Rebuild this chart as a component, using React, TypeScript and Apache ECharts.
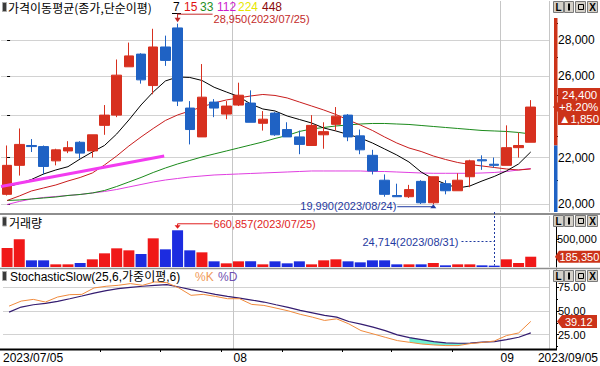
import React, { useEffect, useRef } from 'react';
import * as echarts from 'echarts';

const dates = ['2023/07/05','2023/07/06','2023/07/07','2023/07/10','2023/07/11','2023/07/12','2023/07/13','2023/07/14','2023/07/17','2023/07/18','2023/07/19','2023/07/20','2023/07/21','2023/07/24','2023/07/25','2023/07/26','2023/07/27','2023/07/28','2023/07/31','2023/08/01','2023/08/02','2023/08/03','2023/08/04','2023/08/07','2023/08/08','2023/08/09','2023/08/10','2023/08/11','2023/08/14','2023/08/16','2023/08/17','2023/08/18','2023/08/21','2023/08/22','2023/08/23','2023/08/24','2023/08/25','2023/08/28','2023/08/29','2023/08/30','2023/08/31','2023/09/01','2023/09/04','2023/09/05'];
const opens = [20400,21650,22550,22500,21850,22300,22700,22300,23500,24000,26500,27200,25500,27600,28700,24350,22950,24650,24050,24500,24600,23600,24100,23300,22950,22550,23050,23550,24000,23000,22100,21000,20350,20300,20950,20050,20850,20550,21150,21900,21700,21650,22450,22700];
const closes = [21650,22600,22500,21600,22350,22450,22200,23050,24000,26050,27100,25800,27600,26850,24700,23300,24900,24350,24450,25000,23650,23800,23050,22950,22600,23500,23200,23950,22950,22350,21400,20400,20300,20600,20050,21150,20550,21000,21850,21850,21650,22450,22550,24400];
const lows = [20350,21200,22250,21250,21650,22200,21950,22000,23050,23900,26500,25600,25050,26550,24450,22600,22950,23900,23800,24450,23650,23250,23000,22950,22150,22550,22400,23250,22750,22150,21250,20300,20300,20250,20000,19990,20400,20550,20700,21450,21550,21650,22000,22700];
const highs = [22550,23350,22850,22550,22400,22750,22750,23050,24500,26900,27850,27250,28650,28250,28950,24700,26650,24800,24700,25650,25250,24200,24150,23650,23250,24000,23650,24400,24050,23300,22350,21250,20850,20800,21000,21150,21000,21300,21900,22100,22000,23500,23150,24750];
const volumes = [342000,499000,120000,120000,48000,48000,72000,138000,246000,336000,300000,234000,516000,318000,660857,300000,264000,102000,66000,102000,102000,48000,102000,66000,102000,48000,120000,138000,102000,84000,120000,120000,48000,48000,48000,72000,30000,48000,48000,30000,24714,138000,72000,185350];
const ma7 = [20710,20859,21031,21270,21445,21591,21935,22252,22551,23089,23762,24504,25167,25741,25953,25927,25768,25411,25167,24936,24555,24304,24205,23957,23786,23616,23375,23232,23065,22900,22666,22389,22115,21800,21357,21053,20838,20667,20752,20966,21161,21401,21711,22252];
const ma15 = [20144,20331,20541,20667,20795,20966,21118,21313,21666,22070,22527,22947,23351,23737,24007,24205,24404,24605,24757,24859,24961,25038,24987,24859,24655,24454,24254,24031,23762,23519,23255,22947,22666,22435,22275,22070,21912,21778,21688,21622,21555,21489,21445,21489];
const ma33 = [20144,20165,20206,20248,20289,20352,20394,20457,20562,20731,20923,21118,21335,21533,21711,21867,22025,22161,22297,22435,22574,22713,22877,23018,23208,23327,23399,23471,23519,23567,23592,23592,23567,23543,23495,23447,23399,23351,23303,23255,23232,23208,23160,23089];
const ma112 = [19979,20103,20206,20269,20310,20352,20394,20457,20520,20604,20710,20816,20923,21009,21074,21139,21183,21226,21248,21270,21292,21313,21335,21357,21379,21401,21401,21401,21401,21401,21379,21379,21357,21335,21313,21300,21300,21300,21300,21313,21335,21379,21445,21511];
const stochK = [55.3,60.6,62.4,59.6,64.9,67.4,67.7,74.5,76.3,77.3,79.1,77.3,80.9,80.1,74.5,66.7,67.7,65.6,63.1,63.1,57.1,56.0,53.2,50.3,46.6,43.6,40.1,41.8,36.5,29.4,25.9,22.3,18.8,17.0,15.2,14.2,13.5,13.5,15.6,16.8,18.4,24.1,26.9,39.12];
const stochD = [48.9,54.3,56.7,58.2,60.3,63.1,66.0,69.1,71.6,73.7,75.2,76.3,77.3,78.0,75.5,72.7,70.2,67.7,65.6,63.8,61.7,59.6,56.7,53.9,50.7,48.2,45.4,43.6,39.0,36.2,33.0,29.4,24.8,22.0,19.9,17.7,16.3,16.0,16.2,17.1,17.7,19.9,22.3,26.9];
const oversoldFill = [33, 40];
const trendLine = [[-0.5, 20730], [12.9, 22070]];
const priceTicks = [20000, 22000, 24000, 26000, 28000];
const priceMinorTicks = [21000, 23000, 25000, 27000, 29000];
const volumeTicks = [500000];
const stochTicks = [25, 50, 75];
const stochMinorTicks = [12.5, 37.5, 62.5, 87.5];
const maPeriods = ['7', '15', '33', '112', '224', '448'];

export default function App() {
  const ref = useRef<HTMLDivElement>(null);
  useEffect(() => {
    const el = ref.current;
    if (!el) return;
    const chart = echarts.init(el, null, { renderer: 'svg' });
    const n = dates.length;
    const L = Math.log;
    const cats = [...dates, ''];
    const cats2 = [...dates, '', ''];
    const FONT = '"Liberation Sans", "Noto Sans CJK KR", sans-serif';
    const KFONT = '"Noto Sans CJK KR", "Liberation Sans", sans-serif';
    const UP = '#d7301f', DOWN = '#1f62c4';
    const fmt = (v: number) => Math.round(v).toLocaleString('en-US');
    const month = (i: number) => (dates[i] || '').slice(5, 7);
    const monthStart = (i: number) => i > 0 && i < n && month(i) !== month(i - 1);
    const labelIdx = dates.map((_, i) => i).filter((i) => i === 0 || monthStart(i));
    const isMonday = (i: number) => i < n && new Date(dates[i].replace(/\//g, '-') + 'T00:00:00Z').getUTCDay() === 1;
    const tickShown = (i: number) => isMonday(i) && !labelIdx.some((l) => i >= l && i <= l + 3);
    const gridLine = '#d2d2d2';

    const catAxis = (g: number) => ({
      type: 'category', gridIndex: g, data: cats, boundaryGap: true, position: g === 2 ? 'top' : 'bottom',
      axisLine: { show: false }, axisTick: { show: false }, axisLabel: { show: false },
      splitLine: { show: true, interval: (i: number) => monthStart(i), lineStyle: { color: '#c6c6c6', width: 1 } },
    });
    const pMin = L(19674), pMax = L(30330);
    const sMin = 9.9, sMax = 93.5;
    const fs = oversoldFill[0], fe = oversoldFill[1];
    const last = closes[n - 1], prev = closes[n - 2];
    // axis labels hidden behind the last-price box
    const boxHalf = 22 * (pMax - pMin) / 211;
    const priceLabels = priceTicks.filter((t) => Math.abs(L(t) - L(last)) > boxHalf);

    const option: any = {
      animation: false,
      backgroundColor: '#ffffff',
      textStyle: { fontFamily: FONT },
      grid: [
        { left: 1, top: 1, width: 548, height: 211 },
        { left: 1, top: 216, width: 548, height: 51 },
        { left: 1, top: 270, width: 548, height: 79 },
      ],
      xAxis: [
        catAxis(0), catAxis(1), catAxis(2),
        { type: 'value', gridIndex: 0, min: -0.5, max: n + 0.5, show: false },
        {
          type: 'category', gridIndex: 2, data: cats2, boundaryGap: false, position: 'bottom',
          axisLine: { show: false },
          axisTick: { show: true, interval: (i: number) => tickShown(i), length: 3, lineStyle: { color: '#000' } },
          axisLabel: {
            show: true, interval: (i: number) => labelIdx.includes(i),
            formatter: (v: string, i: number) => (i === 0 ? v : v.slice(5, 7)),
            align: 'left', margin: 3, color: '#000', fontSize: 12, fontFamily: FONT,
          },
          splitLine: { show: false },
        },
      ],
      yAxis: [
        {
          type: 'value', gridIndex: 0, position: 'right', offset: 7, min: pMin, max: pMax,
          axisLine: { show: false },
          axisTick: { show: true, length: 3, customValues: priceTicks.map(L), lineStyle: { color: '#000' } },
          axisLabel: { show: true, customValues: priceLabels.map(L), formatter: (v: number) => fmt(Math.exp(v)), margin: 2, color: '#000', fontSize: 12, fontFamily: FONT },
          splitLine: { show: true, lineStyle: { color: gridLine } },
        },
        {
          type: 'value', gridIndex: 0, position: 'right', offset: 7, min: pMin, max: pMax,
          axisLine: { show: false },
          axisTick: { show: true, length: 2, customValues: priceMinorTicks.map(L), lineStyle: { color: '#000' } },
          axisLabel: { show: false }, splitLine: { show: false },
        },
        {
          type: 'value', gridIndex: 1, position: 'right', offset: 7, min: 0, max: 918000,
          axisLine: { show: true, lineStyle: { color: '#000' } },
          axisTick: { show: true, length: 3, customValues: volumeTicks, lineStyle: { color: '#000' } },
          axisLabel: { show: true, customValues: volumeTicks, formatter: (v: number) => fmt(v), margin: 1, color: '#000', fontSize: 11, fontFamily: FONT },
          splitLine: { show: false },
        },
        {
          type: 'value', gridIndex: 2, position: 'right', offset: 7, min: sMin, max: sMax,
          axisLine: { show: true, lineStyle: { color: '#000' } },
          axisTick: { show: true, length: 3, customValues: stochTicks, lineStyle: { color: '#000' } },
          axisLabel: { show: true, customValues: stochTicks, formatter: (v: number) => v.toFixed(2), margin: 2, color: '#000', fontSize: 11, fontFamily: FONT },
          splitLine: { show: true, lineStyle: { color: gridLine } },
        },
        {
          type: 'value', gridIndex: 2, position: 'right', offset: 7, min: sMin, max: sMax,
          axisLine: { show: false },
          axisTick: { show: true, length: 2, customValues: stochMinorTicks, lineStyle: { color: '#000' } },
          axisLabel: { show: false }, splitLine: { show: false },
        },
      ],
      series: [
        ...([[ma112, '#e03ee0'], [ma33, '#1b8a1b'], [ma15, '#c81c1c'], [ma7, '#000000']] as any[]).map(([d, c]) => ({
          type: 'line', xAxisIndex: 0, yAxisIndex: 0, z: 2, silent: true, symbol: 'none',
          data: (d as number[]).map(L), lineStyle: { color: c, width: 1 },
        })),
        {
          type: 'candlestick', xAxisIndex: 0, yAxisIndex: 0, z: 3, barWidth: 10, silent: true,
          data: dates.map((_, i) => [L(opens[i]), L(closes[i]), L(lows[i]), L(highs[i])]),
          itemStyle: { color: UP, color0: DOWN, borderColor: UP, borderColor0: DOWN, borderWidth: 1 },
        },
        {
          type: 'line', xAxisIndex: 3, yAxisIndex: 0, z: 4, symbol: 'none', silent: true,
          data: trendLine.map(([x, p]) => [x, L(p)]), lineStyle: { color: '#f23cf0', width: 3 },
        },
        {
          type: 'bar', xAxisIndex: 1, yAxisIndex: 2, barWidth: 11, silent: true,
          data: volumes.map((v, i) => ({ value: v, itemStyle: { color: closes[i] >= opens[i] ? '#f01818' : '#1c2ce0' } })),
        },
        {
          type: 'line', xAxisIndex: 2, yAxisIndex: 3, stack: 'fill', symbol: 'none', silent: true,
          lineStyle: { opacity: 0 }, data: stochK.map((k, i) => (i >= fs && i <= fe ? k : '-')),
        },
        {
          type: 'line', xAxisIndex: 2, yAxisIndex: 3, stack: 'fill', symbol: 'none', silent: true,
          lineStyle: { opacity: 0 }, areaStyle: { color: '#72f0d2', opacity: 1 },
          data: stochK.map((k, i) => (i >= fs && i <= fe ? Math.max(stochD[i] - k, 0) : '-')),
        },
        { type: 'line', xAxisIndex: 2, yAxisIndex: 3, symbol: 'none', silent: true, data: stochD, lineStyle: { color: '#341c70', width: 1.2 } },
        { type: 'line', xAxisIndex: 2, yAxisIndex: 3, symbol: 'none', silent: true, data: stochK, lineStyle: { color: '#f08a3c', width: 1 } },
      ],
    };
    chart.setOption(option);

    const toP = (i: number, price: number) => chart.convertToPixel({ xAxisIndex: 0, yAxisIndex: 0 } as any, [i, L(price)]) as unknown as number[];
    const toV = (i: number, v: number) => chart.convertToPixel({ xAxisIndex: 1, yAxisIndex: 2 } as any, [i, v]) as unknown as number[];
    const toS = (i: number, v: number) => chart.convertToPixel({ xAxisIndex: 2, yAxisIndex: 3 } as any, [i, v]) as unknown as number[];

    const line = (x1: number, y1: number, x2: number, y2: number, stroke: string, w = 1, dash?: number[]) =>
      ({ type: 'line', silent: true, z: 100, shape: { x1, y1, x2, y2 }, style: { stroke, lineWidth: w, lineDash: dash } });
    const text = (x: number, y: number, t: string, fill: string, size = 12, align = 'left', family = FONT, weight = 'normal') =>
      ({ type: 'text', silent: true, z: 102, x, y, style: { text: t, fill, fontSize: size, fontFamily: family, fontWeight: weight, align, verticalAlign: 'middle' } });
    const poly = (pts: number[][], fill: string) => ({ type: 'polygon', silent: true, z: 101, shape: { points: pts }, style: { fill } });
    const rect = (x: number, y: number, w: number, h: number, fill: string, stroke?: string) =>
      ({ type: 'rect', silent: true, z: 100, shape: { x, y, width: w, height: h }, style: { fill, stroke: stroke || 'none', lineWidth: stroke ? 1 : 0 } });

    const G: any[] = [];
    // panel separators and bottom axis line
    G.push(line(0, 214, 600, 214, '#8e8e8e', 2));
    G.push(line(0, 268.5, 600, 268.5, '#8e8e8e', 1.5));
    G.push(line(0, 349.5, 557, 349.5, '#000', 2));

    // legends
    const icon = (y: number) => rect(2.5, y, 4, 9, '#3a3a3a', '#a8a8a8');
    G.push(icon(2.5), text(8, 7, '가격이동평균(종가,단순이평)', '#000', 12, 'left', KFONT));
    const maColors = ['#000000', '#e01010', '#1f8f1f', '#cc1ccc', '#e6e600', '#8b0a0a'];
    const maX = [173, 184, 200, 217, 238, 262];
    maPeriods.forEach((p, k) => G.push(text(maX[k], 7, p, maColors[k], 12)));
    G.push(line(172, 13.5, 181, 13.5, '#000', 1));
    G.push(icon(217), text(9, 222.5, '거래량', '#000', 12, 'left', KFONT));
    G.push(icon(271.5), text(10, 276.5, 'StochasticSlow(25,6,가중이평,6)', '#000', 12, 'left', FONT));
    G.push(text(195, 276.5, '%K', '#f09a5a', 12), text(218, 276.5, '%D', '#7050b0', 12));

    // window buttons
    const btns = (y0: number) => [
      rect(553.5, y0 + 0.5, 10, 11, '#d4d0c8', '#7a7a7a'), text(558.5, y0 + 6.5, 'L', '#000', 10, 'center', FONT, 'bold'),
      rect(564.5, y0 + 0.5, 9, 11, '#d4d0c8', '#7a7a7a'), rect(568, y0 + 2.5, 2, 7, '#000'),
      rect(575.5, y0 + 0.5, 10, 11, '#d4d0c8', '#7a7a7a'), rect(578.5, y0 + 3.5, 5, 5, 'none', '#000'),
      rect(587.5, y0 + 0.5, 10, 11, '#d4d0c8', '#7a7a7a'), text(592.5, y0 + 6.5, 'X', '#000', 10, 'center', FONT, 'bold'),
    ];
    G.push(...btns(1), ...btns(215), ...btns(270));

    // price colour bar on axis (above / below previous close)
    const yPrev = toP(n - 1, prev)[1];
    G.push(rect(554, 18, 3.5, yPrev - 18, '#cc3319'), rect(554, yPrev, 3.5, 212 - yPrev, DOWN));

    // max / min price annotations
    let iMax = 0, iMin = 0;
    highs.forEach((h, i) => { if (h > highs[iMax]) iMax = i; });
    lows.forEach((l, i) => { if (l < lows[iMin]) iMin = i; });
    const pm = toP(iMax, highs[iMax]);
    const RED = '#c42a2a';
    G.push(line(pm[0], pm[1] - 10, pm[0], pm[1] - 5, RED), poly([[pm[0] - 3, pm[1] - 6], [pm[0] + 3, pm[1] - 6], [pm[0], pm[1] - 1.5]], RED));
    G.push(line(pm[0], pm[1] - 9.5, pm[0] + 35, pm[1] - 9.5, RED), text(pm[0] + 36, pm[1] - 5, `${fmt(highs[iMax])}(${dates[iMax]})`, RED, 11));
    const pn = toP(iMin, lows[iMin]);
    const BLUE = '#1f3aa0';
    G.push(line(pn[0] - 36, pn[1] + 2.5, pn[0], pn[1] + 2.5, BLUE), poly([[pn[0] - 3, pn[1] + 4], [pn[0] + 3, pn[1] + 4], [pn[0], pn[1]]], BLUE));
    G.push(text(pn[0] - 37, pn[1] + 2, `${fmt(lows[iMin])}(${dates[iMin]})`, BLUE, 11, 'right'));

    // volume annotations
    let vMaxI = 0, vMinI = 0;
    volumes.forEach((v, i) => { if (v > volumes[vMaxI]) vMaxI = i; if (v < volumes[vMinI]) vMinI = i; });
    const vm = toV(vMaxI, volumes[vMaxI]);
    const VRED = '#e01e1e';
    G.push(line(vm[0], vm[1] - 6.5, vm[0], vm[1] - 4, VRED), poly([[vm[0] - 3, vm[1] - 5], [vm[0] + 3, vm[1] - 5], [vm[0], vm[1] - 1.5]], VRED));
    G.push(line(vm[0], vm[1] - 6.5, vm[0] + 35, vm[1] - 6.5, VRED), text(vm[0] + 36, vm[1] - 6, `${fmt(volumes[vMaxI])}(${dates[vMaxI]})`, VRED, 11));
    const vn = toV(vMinI, volumes[vMinI]);
    const midY = 216 + 51 / 2;
    const vx = Math.round(vn[0]) + 0.5;
    G.push(line(vx, 212, vx, vn[1], BLUE, 1, [2, 2]), line(vx - 33, midY, vx, midY, BLUE, 1, [2, 2]));
    G.push(text(vx - 36, midY, `${fmt(volumes[vMinI])}(${dates[vMinI]})`, BLUE, 11, 'right'));

    // last price box
    const yl = toP(n - 1, last)[1];
    const BOX = '#cc3319';
    const chg = last - prev;
    const pct = (chg / prev) * 100;
    G.push(poly([[553, yl], [558, yl - 5], [558, yl - 19], [600, yl - 19], [600, yl + 18], [558, yl + 18], [558, yl + 5]], BOX));
    G.push(text(562, yl - 12, fmt(last), '#fff', 11.5), text(559, yl, `${chg >= 0 ? '+' : ''}${pct.toFixed(2)}%`, '#fff', 11.5),
      text(559, yl + 12, `${chg >= 0 ? '▲' : '▼'}${fmt(Math.abs(chg))}`, '#fff', 11.5));
    // last volume box
    const yv = toV(n - 1, volumes[n - 1])[1];
    G.push(poly([[555, yv], [559, yv - 6], [600, yv - 6], [600, yv + 6], [559, yv + 6]], BOX), text(559.5, yv, fmt(volumes[n - 1]), '#fff', 11));
    // last stochastic box
    const ys = toS(n - 1, stochK[n - 1])[1];
    G.push(poly([[557, ys], [562, ys - 6.5], [597, ys - 6.5], [597, ys + 6.5], [562, ys + 6.5]], BOX), text(565, ys + 1, stochK[n - 1].toFixed(2), '#fff', 11));

    // last date label
    G.push(text(598, 357.5, dates[n - 1], '#000', 12, 'right'));

    chart.setOption({ graphic: G });
    return () => chart.dispose();
  }, []);
  return <div ref={ref} style={{ position: 'fixed', left: 0, top: 0, width: 600, height: 366, background: '#fff' }} />;
}
